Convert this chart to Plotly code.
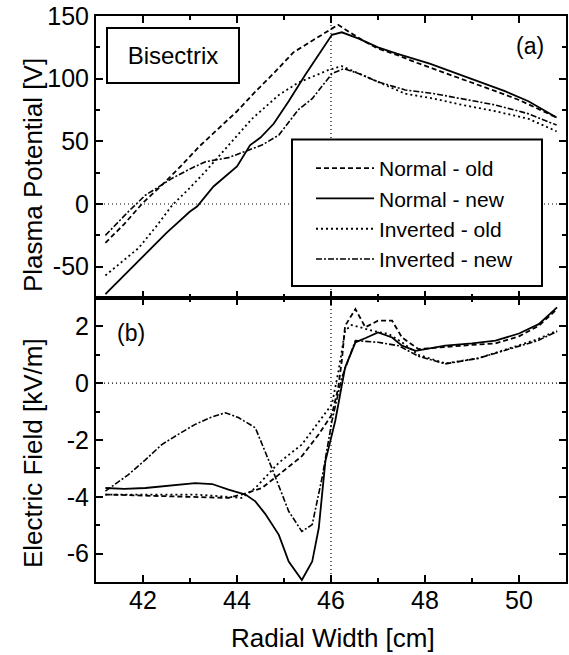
import plotly.graph_objects as go

# ---------------- data ----------------
# Top panel: plasma potential [V]
pp_normal_old_x = [41.2, 41.6, 42.0, 42.4, 42.8, 43.2, 43.6, 44.0, 44.4, 44.8, 45.2, 45.6, 45.95, 46.15, 46.4, 46.7, 47.0, 47.4, 47.8, 48.4, 49.0, 49.5, 50.0, 50.4, 50.8]
pp_normal_old_y = [-31, -16, 1, 15, 30, 46, 60, 74, 90, 105, 121, 130, 138, 143, 137, 130, 124, 119, 113, 105, 97, 90, 83, 76, 69]

pp_normal_new_x = [41.2, 41.6, 42.0, 42.5, 43.0, 43.15, 43.5, 44.0, 44.28, 44.5, 44.78, 45.1, 45.45, 45.75, 46.02, 46.23, 46.59, 47.0, 47.4, 48.1, 48.6, 49.14, 49.7, 50.2, 50.8]
pp_normal_new_y = [-72, -57, -42, -23, -6, -2, 14, 30, 47, 53, 64, 82, 103, 120, 135, 137, 132, 125, 120, 112, 105, 97.5, 90, 82, 69]

pp_inverted_old_x = [41.2, 41.6, 41.91, 42.3, 42.62, 43.0, 43.33, 43.8, 44.32, 44.89, 45.31, 45.7, 45.95, 46.23, 46.66, 47.0, 47.58, 48.2, 48.8, 49.5, 50.2, 50.8]
pp_inverted_old_y = [-57, -45, -35, -17, -1, 13, 26, 46, 68, 87, 97, 103, 107, 110, 103, 97, 88, 84, 79, 74, 68, 58]

pp_inverted_new_x = [41.2, 41.45, 41.69, 42.05, 42.3, 42.62, 43.0, 43.33, 43.82, 44.18, 44.53, 44.89, 45.3, 45.6, 46.02, 46.27, 46.6, 47.0, 47.58, 48.2, 48.8, 49.5, 50.2, 50.8]
pp_inverted_new_y = [-25, -15, -6, 7, 13, 20.5, 28, 33.7, 37, 42, 47, 55, 75, 84, 104, 108, 104, 97.5, 91, 88, 84, 79, 72, 63]

# Bottom panel: electric field [kV/m]
ef_normal_old_x = [41.2, 41.8, 42.4, 43.1, 43.82, 44.1, 44.53, 44.89, 45.38, 45.74, 46.02, 46.15, 46.23, 46.3, 46.52, 46.73, 47.0, 47.3, 47.51, 47.86, 48.43, 49.0, 49.5, 50.0, 50.42, 50.81]
ef_normal_old_y = [-3.92, -3.95, -3.98, -4.0, -4.04, -3.92, -3.69, -3.22, -2.57, -1.8, -1.1, -0.2, 0.79, 2.02, 2.61, 1.97, 2.2, 2.2, 1.61, 1.2, 1.28, 1.35, 1.4, 1.65, 2.02, 2.61]

ef_normal_new_x = [41.2, 41.6, 42.05, 42.6, 43.11, 43.47, 43.82, 44.18, 44.39, 44.6, 44.89, 45.1, 45.38, 45.6, 45.74, 45.88, 46.09, 46.3, 46.52, 46.75, 47.0, 47.3, 47.51, 47.8, 48.43, 49.0, 49.5, 50.0, 50.42, 50.81]
ef_normal_new_y = [-3.69, -3.72, -3.69, -3.6, -3.52, -3.55, -3.75, -3.92, -4.16, -4.6, -5.34, -6.28, -6.93, -6.28, -5.1, -2.75, -1.33, 0.55, 1.44, 1.6, 1.79, 1.61, 1.32, 1.14, 1.32, 1.4, 1.5, 1.75, 2.08, 2.67]

ef_inverted_old_x = [41.2, 41.8, 42.4, 43.11, 43.8, 44.1, 44.39, 44.89, 45.38, 45.81, 46.02, 46.16, 46.3, 46.44, 46.87, 47.23, 47.51, 47.86, 48.43, 49.14, 49.85, 50.4, 50.81]
ef_inverted_old_y = [-3.92, -3.92, -3.92, -3.92, -4.0, -4.04, -3.69, -2.8, -2.16, -1.21, -0.74, 0.43, 1.85, 2.05, 1.85, 1.73, 1.44, 1.0, 0.7, 0.88, 1.26, 1.55, 1.85]

ef_inverted_new_x = [41.2, 41.69, 42.05, 42.4, 42.75, 43.11, 43.45, 43.75, 44.03, 44.39, 44.74, 45.1, 45.38, 45.6, 45.81, 46.02, 46.23, 46.52, 47.0, 47.44, 47.86, 48.43, 49.14, 49.85, 50.4, 50.81]
ef_inverted_new_y = [-3.8, -3.22, -2.7, -2.16, -1.8, -1.45, -1.2, -1.04, -1.21, -1.57, -2.98, -4.51, -5.22, -4.98, -3.33, -1.33, 0.2, 1.5, 1.44, 1.32, 0.95, 0.68, 0.88, 1.24, 1.5, 1.82]

series_names = ["Normal - old", "Normal - new", "Inverted - old", "Inverted - new"]

x_tickvals = [42, 44, 46, 48, 50]
x_ticktext = ["42", "44", "46", "48", "50"]
pp_tickvals = [-50, 0, 50, 100, 150]
pp_ticktext = ["-50", "0", "50", "100", "150"]
ef_tickvals = [-6, -4, -2, 0, 2]
ef_ticktext = ["-6", "-4", "-2", "0", "2"]

x_ref = 46
y_ref = 0

# ---------------- styles ----------------
FONT = "Liberation Sans, Arial, Helvetica, sans-serif"
dashes = ["5px,3px", "solid", "2px,3px", "6px,2px,2px,2px"]
widths = [1.8, 1.8, 1.8, 1.6]

W, H = 569, 655
ML, MR, MT, MB = 96, 3, 16, 73
PW = W - ML - MR
PH = H - MT - MB


def px_x(px):
    return (px - ML) / PW


def px_y(py):
    return (H - MB - py) / PH


top_data = [(pp_normal_old_x, pp_normal_old_y), (pp_normal_new_x, pp_normal_new_y),
            (pp_inverted_old_x, pp_inverted_old_y), (pp_inverted_new_x, pp_inverted_new_y)]
bot_data = [(ef_normal_old_x, ef_normal_old_y), (ef_normal_new_x, ef_normal_new_y),
            (ef_inverted_old_x, ef_inverted_old_y), (ef_inverted_new_x, ef_inverted_new_y)]

fig = go.Figure()
for i, (xs, ys) in enumerate(top_data):
    fig.add_trace(go.Scatter(x=xs, y=ys, mode="lines", name=series_names[i],
                             line=dict(color="black", width=widths[i], dash=dashes[i]),
                             xaxis="x2", yaxis="y2", showlegend=True))
for i, (xs, ys) in enumerate(bot_data):
    fig.add_trace(go.Scatter(x=xs, y=ys, mode="lines", name=series_names[i],
                             line=dict(color="black", width=widths[i], dash=dashes[i]),
                             xaxis="x", yaxis="y", showlegend=False))

split = px_y(298)
common_axis = dict(showline=True, linewidth=2, linecolor="black", mirror="allticks",
                   ticks="inside", ticklen=7, tickwidth=1.5, tickcolor="black",
                   showgrid=False, zeroline=False,
                   tickfont=dict(family=FONT, size=25, color="black"))
minor_x = dict(dtick=1, tick0=41, ticks="inside", ticklen=4, tickcolor="black", tickwidth=1.5)

fig.update_layout(
    width=W, height=H,
    margin=dict(l=ML, r=MR, t=MT, b=MB, autoexpand=False),
    plot_bgcolor="white", paper_bgcolor="white",
    font=dict(family=FONT, color="black"),
    xaxis=dict(common_axis, domain=[0, 1], range=[41, 51], anchor="y",
               tickmode="array", tickvals=x_tickvals, ticktext=x_ticktext, minor=minor_x,
               ticklabelstandoff=-5),
    yaxis=dict(common_axis, domain=[0, split], range=[-7, 3], anchor="x",
               tickmode="array", tickvals=ef_tickvals, ticktext=ef_ticktext,
               minor=dict(dtick=1, tick0=1, ticks="inside", ticklen=4, tickcolor="black", tickwidth=1.5)),
    xaxis2=dict(common_axis, domain=[0, 1], range=[41, 51], anchor="y2",
                showticklabels=False, tickmode="array", tickvals=x_tickvals, minor=minor_x),
    yaxis2=dict(common_axis, domain=[split, 1], range=[-75, 150], anchor="x2",
                tickmode="array", tickvals=pp_tickvals, ticktext=pp_ticktext,
                minor=dict(dtick=25, tick0=25, ticks="inside", ticklen=4, tickcolor="black", tickwidth=1.5)),
    legend=dict(x=px_x(311), y=px_y(148), xanchor="left", yanchor="top",
                bgcolor="rgba(0,0,0,0)", borderwidth=0,
                font=dict(family=FONT, size=21, color="black"),
                itemwidth=58, traceorder="normal"),
    showlegend=True,
)

dot_line = dict(color="black", width=1.2, dash="1px,3px")
fig.add_shape(type="line", xref="x2", yref="y2 domain", x0=x_ref, x1=x_ref, y0=0, y1=1, line=dot_line)
fig.add_shape(type="line", xref="x domain", yref="y", x0=0, x1=1, y0=y_ref, y1=y_ref, line=dot_line)
fig.add_shape(type="line", xref="x", yref="y domain", x0=x_ref, x1=x_ref, y0=0, y1=1, line=dot_line)
fig.add_shape(type="line", xref="x2 domain", yref="y2", x0=0, x1=1, y0=y_ref, y1=y_ref, line=dot_line)
# legend frame
fig.add_shape(type="rect", xref="paper", yref="paper", layer="above",
              x0=px_x(292), x1=px_x(542), y0=px_y(286), y1=px_y(139.5),
              fillcolor="white", line=dict(color="black", width=2))

# Text annotations
ann = dict(xref="paper", yref="paper", showarrow=False, xanchor="center", yanchor="middle")
fig.add_annotation(ann, x=px_x(173), y=px_y(56), text="Bisectrix",
                   font=dict(family=FONT, size=24),
                   bordercolor="black", borderwidth=2, bgcolor="white", width=128, height=51)
fig.add_annotation(ann, x=px_x(530), y=px_y(46), text="(a)", font=dict(family=FONT, size=23))
fig.add_annotation(ann, x=px_x(131), y=px_y(333), text="(b)", font=dict(family=FONT, size=23))
fig.add_annotation(ann, x=px_x(333), y=px_y(638), text="Radial Width [cm]",
                   font=dict(family=FONT, size=26))
fig.add_annotation(ann, x=px_x(33), y=px_y(175), text="Plasma Potential [V]", textangle=-90,
                   font=dict(family=FONT, size=26))
fig.add_annotation(ann, x=px_x(33), y=px_y(453), text="Electric Field [kV/m]", textangle=-90,
                   font=dict(family=FONT, size=26))

fig.write_html("out.html", config={"displayModeBar": False},
               post_script="document.body.style.margin='0';document.documentElement.style.overflow='hidden';")
